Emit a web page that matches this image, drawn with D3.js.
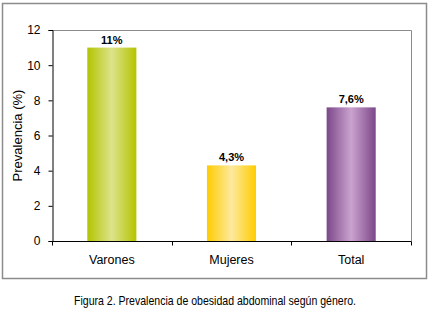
<!DOCTYPE html>
<html lang="es">
  <head>
    <meta charset="UTF-8" />
    <title>Prevalencia de obesidad abdominal</title>
    <style>
      body { margin: 0; background: #fff; }
      text { font-family: "Liberation Sans", Arial, sans-serif; fill: #000; }
      .axis path, .axis line { stroke: #000; }
      .axis text { font-size: 12px; }
    </style>
  </head>
  <body>
    <svg id="container" width="430" height="310"></svg>
  </body>
  <script src="https://cdn.jsdelivr.net/npm/d3@7"></script>
  <script>
    // data
    let categories = ["Varones", "Mujeres", "Total"];
    let values = [11, 4.3, 7.6];
    let valueLabels = ["11%", "4,3%", "7,6%"];
    let yTicks = [0, 2, 4, 6, 8, 10, 12];
    let barColors = [
      { edge: "#b4c400", mid: "#dce38c" },
      { edge: "#ffcc00", mid: "#fce99e" },
      { edge: "#7b4789", mid: "#cba3cf" },
    ];

    let svg = d3.select("#container");

    // outer frame
    svg.append("rect")
      .attr("x", 2.5).attr("y", 3.5)
      .attr("width", 424).attr("height", 275)
      .attr("fill", "none").attr("stroke", "#8c8c8c").attr("stroke-width", 1.5);

    let plotLeft = 52, plotTop = 30, plotRight = 411, plotBottom = 241;

    let xScale = d3.scaleBand().domain(categories).range([plotLeft, plotRight]).paddingInner(0.59).paddingOuter(0.295);
    let yScale = d3.scaleLinear().domain([0, 12]).range([plotBottom, plotTop]);

    // gradients for the bars
    let defs = svg.append("defs");
    barColors.forEach((c, i) => {
      let g = defs.append("linearGradient").attr("id", "grad" + i)
        .attr("x1", "0%").attr("x2", "100%").attr("y1", "0%").attr("y2", "0%");
      g.append("stop").attr("offset", "0%").attr("stop-color", c.edge);
      g.append("stop").attr("offset", "50%").attr("stop-color", c.mid);
      g.append("stop").attr("offset", "100%").attr("stop-color", c.edge);
    });

    // plot area border (top and right in grey)
    svg.append("path")
      .attr("d", `M${plotLeft},${plotTop + 0.5}H${plotRight + 0.5}V${plotBottom}`)
      .attr("fill", "none").attr("stroke", "#8c8c8c");

    // bars
    svg.selectAll(".bar").data(values).enter().append("rect")
      .attr("x", (d, i) => xScale(categories[i]))
      .attr("y", d => yScale(d))
      .attr("width", xScale.bandwidth())
      .attr("height", d => plotBottom - yScale(d))
      .attr("fill", (d, i) => `url(#grad${i})`);

    // value labels
    svg.selectAll(".vlabel").data(values).enter().append("text")
      .attr("x", (d, i) => xScale(categories[i]) + xScale.bandwidth() / 2)
      .attr("y", d => yScale(d) - 4)
      .attr("text-anchor", "middle")
      .style("font-size", "11px").style("font-weight", "bold")
      .text((d, i) => valueLabels[i]);

    // y axis
    svg.append("g").attr("class", "axis")
      .attr("transform", `translate(${plotLeft + 0.5},0)`)
      .call(d3.axisLeft(yScale).tickValues(yTicks).tickSize(4).tickPadding(8).tickFormat(d3.format("d")));

    // x axis with ticks between categories
    let xAxis = svg.append("g").attr("class", "axis")
      .attr("transform", `translate(0,${plotBottom + 0.5})`);
    xAxis.append("line").attr("x1", plotLeft).attr("x2", plotRight + 0.5).attr("stroke", "#000");
    d3.range(categories.length + 1).forEach(i => {
      let x = Math.round(plotLeft + i * (plotRight - plotLeft) / categories.length) + 0.5;
      xAxis.append("line").attr("x1", x).attr("x2", x).attr("y1", 0).attr("y2", 4).attr("stroke", "#000");
    });
    xAxis.selectAll(".cat").data(categories).enter().append("text")
      .attr("x", d => xScale(d) + xScale.bandwidth() / 2)
      .attr("y", 22)
      .attr("text-anchor", "middle")
      .style("font-size", "12.5px")
      .text(d => d);

    // y title
    svg.append("text")
      .attr("transform", `translate(22,${(plotTop + plotBottom) / 2}) rotate(-90)`)
      .attr("text-anchor", "middle")
      .style("font-size", "13px")
      .text("Prevalencia (%)");

    // caption
    svg.append("text")
      .attr("x", 215).attr("y", 305)
      .attr("text-anchor", "middle")
      .style("font-size", "13px")
      .attr("textLength", 282)
      .attr("lengthAdjust", "spacingAndGlyphs")
      .text("Figura 2. Prevalencia de obesidad abdominal según género.");
  </script>
</html>
